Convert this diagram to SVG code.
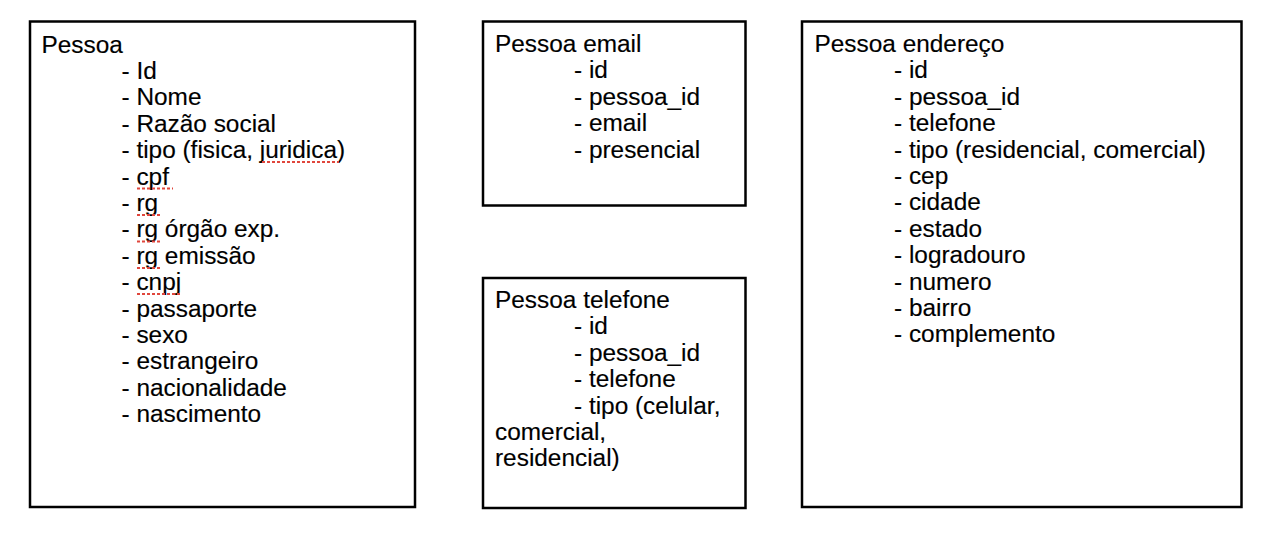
<svg xmlns="http://www.w3.org/2000/svg" width="1280" height="537" viewBox="0 0 1280 537">
<style>
.box{fill:#fff;stroke:#000;stroke-width:2.5}
.t{font-family:"Liberation Sans",Arial,Helvetica,sans-serif;font-size:24.4px;fill:#000;stroke:#000;stroke-width:0.15}
.sp{stroke:#e0463c;stroke-width:2;stroke-dasharray:3 2;fill:none}
</style>
<rect width="1280" height="537" fill="#fff"/>
<g id="pessoa">
<rect class="box" x="30" y="21.5" width="385" height="485.5"/>
<text class="t">
<tspan x="41.5" y="52.5">Pessoa</tspan>
<tspan x="121.5" y="78.9">- Id</tspan>
<tspan x="121.5" y="105.3">- Nome</tspan>
<tspan x="121.5" y="131.7">- Razão social</tspan>
<tspan x="121.5" y="158.1">- tipo (fisica, juridica)</tspan>
<tspan x="121.5" y="184.5">- cpf</tspan>
<tspan x="121.5" y="210.9">- rg</tspan>
<tspan x="121.5" y="237.3">- rg órgão exp.</tspan>
<tspan x="121.5" y="263.7">- rg emissão</tspan>
<tspan x="121.5" y="290.1">- cnpj</tspan>
<tspan x="121.5" y="316.5">- passaporte</tspan>
<tspan x="121.5" y="342.9">- sexo</tspan>
<tspan x="121.5" y="369.3">- estrangeiro</tspan>
<tspan x="121.5" y="395.7">- nacionalidade</tspan>
<tspan x="121.5" y="422.1">- nascimento</tspan>
</text>
<path class="sp" d="M262 162H339M137 188.5H173M137 215H162M137 241.5H162M137 268H162M137 294H181"/>
</g>
<g id="pessoa-email">
<rect class="box" x="483" y="21.5" width="262.5" height="184"/>
<text class="t">
<tspan x="495" y="52">Pessoa email</tspan>
<tspan x="574" y="78.4">- id</tspan>
<tspan x="574" y="104.8">- pessoa_id</tspan>
<tspan x="574" y="131.2">- email</tspan>
<tspan x="574" y="157.6">- presencial</tspan>
</text>
</g>
<g id="pessoa-telefone">
<rect class="box" x="483" y="278" width="262.5" height="230"/>
<text class="t">
<tspan x="495" y="308">Pessoa telefone</tspan>
<tspan x="574" y="334.4">- id</tspan>
<tspan x="574" y="360.8">- pessoa_id</tspan>
<tspan x="574" y="387.2">- telefone</tspan>
<tspan x="574" y="413.6">- tipo (celular,</tspan>
<tspan x="495" y="440">comercial,</tspan>
<tspan x="495" y="466.4">residencial)</tspan>
</text>
</g>
<g id="pessoa-endereco">
<rect class="box" x="802" y="21.5" width="439.5" height="485.5"/>
<text class="t">
<tspan x="814.5" y="52">Pessoa endereço</tspan>
<tspan x="894" y="78.4">- id</tspan>
<tspan x="894" y="104.8">- pessoa_id</tspan>
<tspan x="894" y="131.2">- telefone</tspan>
<tspan x="894" y="157.6">- tipo (residencial, comercial)</tspan>
<tspan x="894" y="184">- cep</tspan>
<tspan x="894" y="210.4">- cidade</tspan>
<tspan x="894" y="236.8">- estado</tspan>
<tspan x="894" y="263.2">- logradouro</tspan>
<tspan x="894" y="289.6">- numero</tspan>
<tspan x="894" y="316">- bairro</tspan>
<tspan x="894" y="342.4">- complemento</tspan>
</text>
</g>
<g id="connectors"></g>
</svg>
